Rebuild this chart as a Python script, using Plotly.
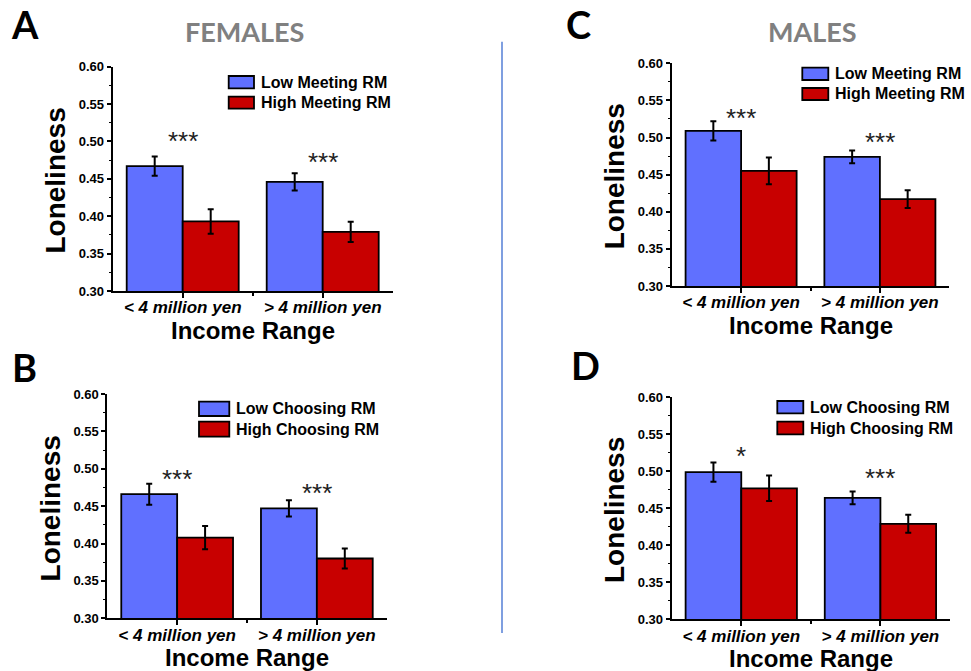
import plotly.graph_objects as go

# ---------------- data ----------------
categories = ["< 4 million yen", "> 4 million yen"]

series_names_meeting = ["Low Meeting RM", "High Meeting RM"]
series_names_choosing = ["Low Choosing RM", "High Choosing RM"]

# Panel A (females, meeting RM)
A_low = [0.467, 0.446]
A_low_err = [0.013, 0.0115]
A_high = [0.393, 0.379]
A_high_err = [0.0165, 0.0135]
A_sig = ["***", "***"]
A_sig_y = [0.509, 0.480]

# Panel B (females, choosing RM)
B_low = [0.466, 0.447]
B_low_err = [0.014, 0.011]
B_high = [0.408, 0.380]
B_high_err = [0.0156, 0.0134]
B_sig = ["***", "***"]
B_sig_y = [0.495, 0.476]

# Panel C (males, meeting RM)
C_low = [0.509, 0.474]
C_low_err = [0.013, 0.0085]
C_high = [0.455, 0.417]
C_high_err = [0.018, 0.012]
C_sig = ["***", "***"]
C_sig_y = [0.534, 0.502]

# Panel D (males, choosing RM)
D_low = [0.499, 0.464]
D_low_err = [0.013, 0.0086]
D_high = [0.477, 0.429]
D_high_err = [0.0173, 0.0122]
D_sig = ["*", "***"]
D_sig_y = [0.529, 0.499]

y_ticks = [0.30, 0.35, 0.40, 0.45, 0.50, 0.55, 0.60]

# ---------------- styling / layout ----------------
W, H = 971, 671
BLUE = "#6070FF"
RED = "#C80000"
ARIAL = "Liberation Sans, Arial, sans-serif"
CAL = "Lato, Open Sans, sans-serif"


def px(x):
    return x / W


def py(y):
    return 1 - y / H


# axis rectangles in pixels: (left, right, top(0.60), bottom(0.30))
rects = {
    "A": (112.7, 392.7, 66.7, 291.0),
    "B": (107.3, 386.7, 394.0, 618.3),
    "C": (671.7, 949.3, 63.3, 286.0),
    "D": (671.7, 950.0, 397.3, 619.3),
}
# legend swatch geometry: (x0, x1, y0_row1, y1_row1, y0_row2, y1_row2, text_x)
legend_geo = {
    "A": (228.7, 254.0, 76.0, 88.3, 96.7, 108.7, 259.0),
    "B": (199.0, 229.3, 401.7, 416.0, 421.7, 436.7, 234.0),
    "C": (802.3, 828.3, 67.7, 80.0, 88.0, 100.0, 832.5),
    "D": (777.3, 803.3, 401.0, 413.3, 421.7, 434.3, 807.5),
}
letter_pos = {"A": (24.7, 24.0), "B": (24.5, 367.0), "C": (578.5, 23.5), "D": (585.0, 365.0)}

panels = {
    "A": (A_low, A_low_err, A_high, A_high_err, A_sig, A_sig_y, series_names_meeting),
    "B": (B_low, B_low_err, B_high, B_high_err, B_sig, B_sig_y, series_names_choosing),
    "C": (C_low, C_low_err, C_high, C_high_err, C_sig, C_sig_y, series_names_meeting),
    "D": (D_low, D_low_err, D_high, D_high_err, D_sig, D_sig_y, series_names_choosing),
}

fig = go.Figure()
annotations = []
shapes = []
xpos = list(range(len(categories)))

for i, key in enumerate(["A", "B", "C", "D"]):
    low, low_err, high, high_err, sig, sig_y, names = panels[key]
    suffix = "" if i == 0 else str(i + 1)
    xa, ya = "x" + suffix, "y" + suffix
    for vals, errs, color, name in [(low, low_err, BLUE, names[0]), (high, high_err, RED, names[1])]:
        fig.add_trace(go.Bar(
            x=xpos, y=vals, name=name, xaxis=xa, yaxis=ya,
            marker=dict(color=color, line=dict(color="black", width=1.8)),
            error_y=dict(type="data", array=errs, visible=True, color="black", thickness=2, width=3),
            showlegend=False,
        ))
    l, r, t, b = rects[key]
    fig.update_layout(**{
        "xaxis" + suffix: dict(
            domain=[px(l), px(r)], anchor=ya, range=[-0.5, 1.5],
            tickvals=xpos, ticktext=categories,
            showline=True, linecolor="black", linewidth=2,
            ticks="outside", ticklen=5, tickwidth=2, tickcolor="black",
            minor=dict(tickvals=[0.5], ticks="outside", ticklen=3, tickwidth=1.5, tickcolor="black"),
            tickfont=dict(family=ARIAL, size=17, color="black", weight="bold", style="italic"),
            ticklabelstandoff=-5, automargin=False,
            showgrid=False, zeroline=False, fixedrange=True,
        ),
        "yaxis" + suffix: dict(
            domain=[py(b), py(t)], anchor=xa, range=[0.30, 0.60],
            tickvals=y_ticks, tickformat=".2f",
            showline=True, linecolor="black", linewidth=2,
            ticks="outside", ticklen=4, tickwidth=2, tickcolor="black",
            minor=dict(dtick=0.025, ticks="outside", ticklen=2, tickwidth=1.2, tickcolor="black"),
            tickfont=dict(family=ARIAL, size=13, color="black", weight="bold"),
            automargin=False,
            showgrid=False, zeroline=False, fixedrange=True,
        ),
    })
    # significance markers
    for xi, s, yv in zip(xpos, sig, sig_y):
        annotations.append(dict(
            x=xi, y=yv, xref=xa, yref=ya, text=s, showarrow=False,
            font=dict(family=ARIAL, size=26, color="#222222"), yanchor="middle", yshift=-6,
        ))
    # axis titles
    annotations.append(dict(
        x=px(l - 57), y=py((t + b) / 2 + 2), xref="paper", yref="paper", text="Loneliness",
        textangle=-90, showarrow=False, xanchor="center", yanchor="middle",
        font=dict(family=ARIAL, size=28, color="black", weight="bold"),
    ))
    annotations.append(dict(
        x=px((l + r) / 2), y=py(b + 39), xref="paper", yref="paper", text="Income Range",
        showarrow=False, xanchor="center", yanchor="middle",
        font=dict(family=ARIAL, size=24, color="black", weight="bold"),
    ))
    # legend (swatches + labels)
    x0, x1, r1a, r1b, r2a, r2b, tx = legend_geo[key]
    for (ya0, ya1), color, name in [((r1a, r1b), BLUE, names[0]), ((r2a, r2b), RED, names[1])]:
        shapes.append(dict(type="rect", xref="paper", yref="paper",
                           x0=px(x0), x1=px(x1), y0=py(ya1), y1=py(ya0),
                           fillcolor=color, line=dict(color="black", width=1.8)))
        annotations.append(dict(
            x=px(tx), y=py((ya0 + ya1) / 2), xref="paper", yref="paper", text=name,
            showarrow=False, xanchor="left", yanchor="middle",
            font=dict(family=ARIAL, size=16, color="black", weight="bold"),
        ))
    # panel letter
    lx, ly = letter_pos[key]
    annotations.append(dict(
        x=px(lx), y=py(ly), xref="paper", yref="paper", text=key, showarrow=False,
        xanchor="center", yanchor="middle",
        font=dict(family=CAL, size=38, color="black", weight="bold"),
    ))

# group titles
annotations.append(dict(x=px(245), y=py(31), xref="paper", yref="paper", text="FEMALES",
                        showarrow=False, xanchor="center", yanchor="middle",
                        font=dict(family=CAL, size=27, color="#808080", weight="bold")))
annotations.append(dict(x=px(812), y=py(31), xref="paper", yref="paper", text="MALES",
                        showarrow=False, xanchor="center", yanchor="middle",
                        font=dict(family=CAL, size=27, color="#808080", weight="bold")))

# vertical divider
shapes.append(dict(type="line", xref="paper", yref="paper", x0=px(502), x1=px(502),
                   y0=py(41.7), y1=py(633), line=dict(color="#7F9FE0", width=2)))

fig.update_layout(
    width=W, height=H, margin=dict(l=0, r=0, t=0, b=0, autoexpand=False),
    paper_bgcolor="white", plot_bgcolor="white",
    barmode="group", bargap=0.2, bargroupgap=0,
    showlegend=False,
    annotations=annotations, shapes=shapes,
)

fig.write_html(
    "out.html",
    config={"displayModeBar": False},
    post_script="document.body.style.margin='0';document.body.style.overflow='hidden';",
)
